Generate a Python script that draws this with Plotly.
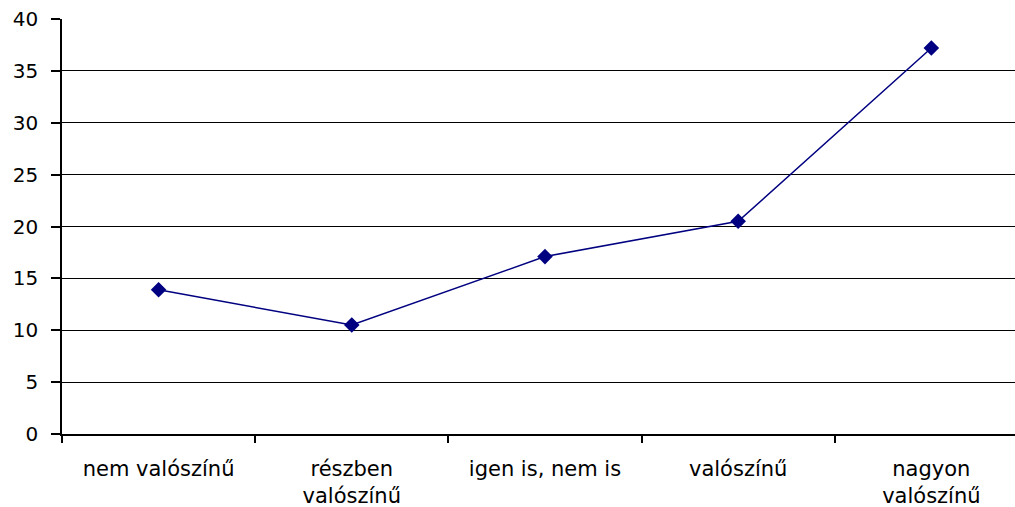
import plotly.graph_objects as go

categories = ["nem valószínű", "részben<br>valószínű", "igen is, nem is", "valószínű", "nagyon<br>valószínű"]
values = [13.9, 10.5, 17.1, 20.5, 37.2]
y_ticks = [0, 5, 10, 15, 20, 25, 30, 35, 40]

fig = go.Figure()
fig.add_trace(go.Scatter(
    x=categories, y=values, mode="lines+markers",
    line=dict(color="#000080", width=1.5),
    marker=dict(symbol="diamond", size=12, color="#000080"),
    showlegend=False, cliponaxis=False,
))

fig.update_layout(
    width=1015, height=507,
    margin=dict(l=62, r=0, t=19, b=73),
    paper_bgcolor="white", plot_bgcolor="white",
    font=dict(family="DejaVu Sans", size=20, color="black"),
    xaxis=dict(
        type="category", tickson="boundaries", range=[-0.5, 4.433],
        showline=True, linecolor="black", linewidth=1.5,
        ticks="outside", ticklen=7, tickcolor="black", tickwidth=1.5,
        showgrid=False, zeroline=False, ticklabelstandoff=15,
        tickfont=dict(size=21), automargin=False,
    ),
    yaxis=dict(
        range=[0, 40], tickvals=y_ticks,
        showline=True, linecolor="black", linewidth=1.5,
        ticks="outside", ticklen=9, tickcolor="black", tickwidth=1.5,
        showgrid=True, gridcolor="black", gridwidth=1.2,
        zeroline=False, ticklabelstandoff=9,
        automargin=False,
    ),
)

fig.write_html(
    "out.html",
    config={"displayModeBar": False},
    post_script="document.body.style.margin='0';document.body.style.overflow='hidden';",
)
